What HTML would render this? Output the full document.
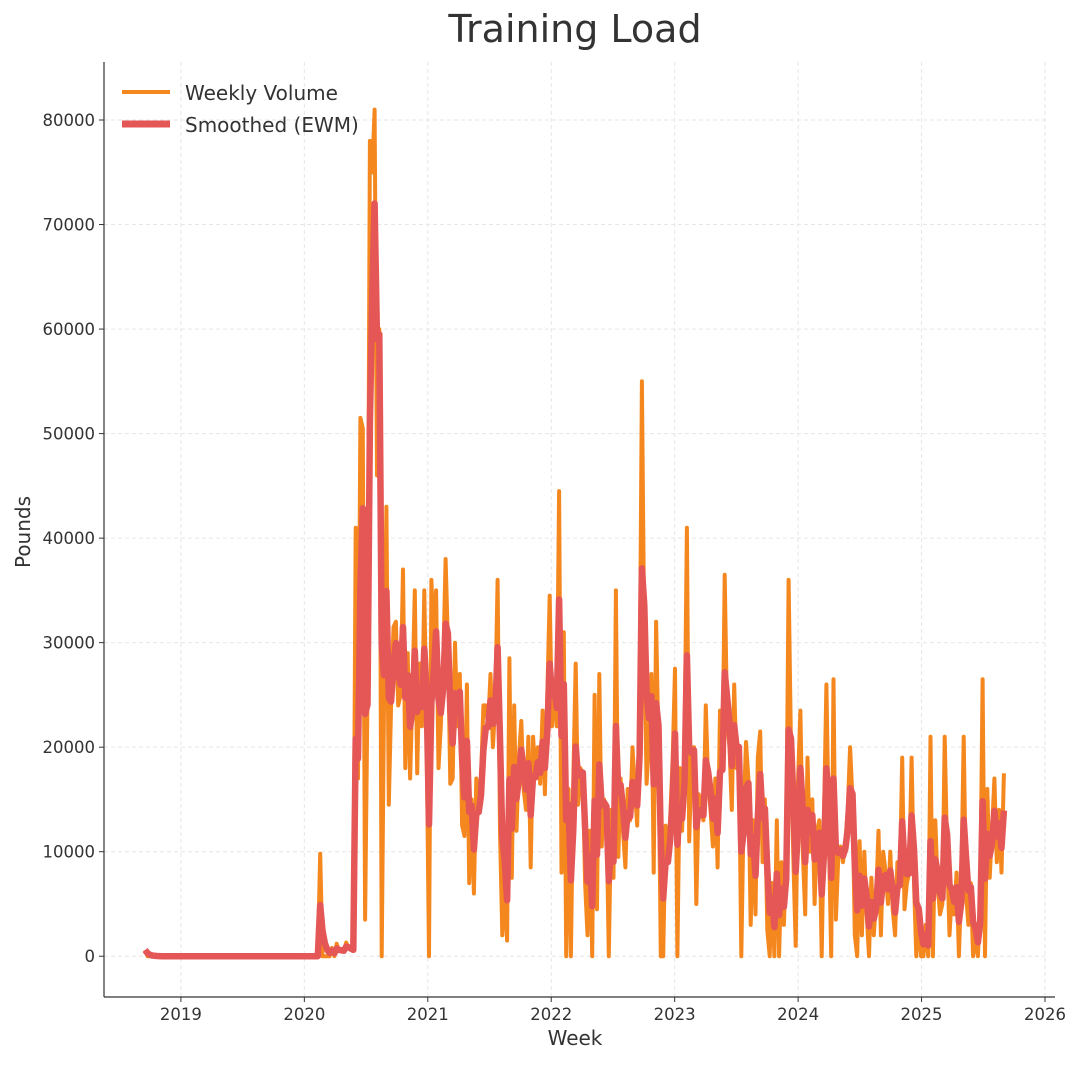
<!DOCTYPE html>
<html><head><meta charset="utf-8"><style>
body{margin:0;background:#fff;}
svg text{font-family:"DejaVu Sans","Liberation Sans",sans-serif;fill:#333;}
</style></head><body>
<svg id="chart" width="1080" height="1061" viewBox="0 0 1080 1061" xmlns="http://www.w3.org/2000/svg">
<text x="575" y="42" font-size="38" text-anchor="middle">Training Load</text>
<g id="grid"></g>
<g id="series"></g>
<g id="axes"></g>
<text x="575" y="1045" font-size="20" text-anchor="middle">Week</text>
<text transform="translate(30,532) rotate(-90)" font-size="20" text-anchor="middle">Pounds</text>
<g>
<g><line x1="122" y1="92" x2="170" y2="92" stroke="#f5871f" stroke-width="4"/><text x="185" y="100" font-size="20">Weekly Volume</text></g>
<g><line x1="122" y1="124" x2="170" y2="124" stroke="#e45756" stroke-width="7"/><text x="185" y="132" font-size="20">Smoothed (EWM)</text></g>
</g>
</svg>
<script>
const yTicks = [0,10000,20000,30000,40000,50000,60000,70000,80000];
const xTicks = [2019,2020,2021,2022,2023,2024,2025,2026];
const startYear = 2018.71;
const weekStep = 7/365.25;
const emwAlpha = 0.5;
const lead = [0.6].concat(new Array(73).fill(0));
const volumeK = lead.concat([9.8,0,0,0,0,0.8,0,1.2,0.5,0.5,0.5,1.3,0.8,0.6,0.5,
41,17,51.5,50.5,3.5,25,78,75,81,46,60,0,24,43,14.5,24,31.5,32,24,25,37,18,29,17,25,35,17.5,28,22,35,21,0,36,30,35,18,22,28,38,30,16.5,17,30,22,27,12.5,11.5,26,7,15,6,17,14,17,24,24,22,27,20,24,36,12,2,7,1.5,28.5,7.5,24,12,19,22.5,16,14,21,8.5,21,17,20,16.5,23.5,15.5,25,34.5,22,26,22,44.5,8,31,0,16,0,17,28,14.5,18,17.5,7,2,12,0,25,4.5,27,10.5,15,14,0,14,7.5,35,9.5,17,12,8.5,16,13,20,16,12.5,24,55,30,16.5,20.5,27,8,32,20,0,0,12.5,9,13.5,19,27.5,0,18,12,20,41,11,19,20,5,15.5,14,13,24,16.5,14,10.5,17,8.5,23.5,18,36.5,22.5,20,14,26,18,20,0,13.5,20.5,17,3,13,4,19,21.5,9,15,2.5,0,7,0,13,0,9,3,10,36,20,9.5,1,17,23.5,10,4,19,10,15,5,12,13,0,14,26,12,0,26.5,3.5,9.5,10.5,9,11,14,20,15,2,0,11,2,10,4,0,7.5,2,5.5,
12,2,10,8,5,10,4.5,2,9,7,19,4.5,7,8,19,7,0,4,0,0,3,0,21,0,13,7,4,5,21,10,2,6,4,8,0,7,21,6,3,7,0,2,0,5,26.5,0,16,7.5,12,17,9,14,8,17.5]);

const L=104,B=997,xMin=2018.377,xMax=2026.0,xR=1045,yMin=-3900,yMax=85550,T=62;
const xs=v=>L+(v-xMin)/(xMax-xMin)*(xR-L);
const ys=v=>B-(v-yMin)/(yMax-yMin)*(B-T);
const NS="http://www.w3.org/2000/svg";
function mk(tag,attrs,parent){const e=document.createElementNS(NS,tag);for(const k in attrs)e.setAttribute(k,attrs[k]);parent.appendChild(e);return e;}
const grid=document.getElementById('grid'),axes=document.getElementById('axes'),series=document.getElementById('series');
yTicks.forEach(t=>{
  const g=mk('line',{x1:L,x2:xR,y1:ys(t),y2:ys(t),stroke:'#e6e6e6','stroke-dasharray':'4,3','stroke-width':1},grid);
  
  
  mk('line',{x1:L-5,x2:L,y1:ys(t),y2:ys(t),stroke:'#333','stroke-width':1},axes);
  const tx=mk('text',{x:L-9,y:ys(t)+6,'font-size':16.5,'text-anchor':'end'},axes);
  tx.textContent=t;
  
  
});
xTicks.forEach(t=>{
  const g=mk('line',{x1:xs(t),x2:xs(t),y1:T,y2:B,stroke:'#e6e6e6','stroke-dasharray':'4,3','stroke-width':1},grid);
  
  
  mk('line',{x1:xs(t),x2:xs(t),y1:B,y2:B+5,stroke:'#333','stroke-width':1},axes);
  const tx=mk('text',{x:xs(t),y:B+23,'font-size':16.5,'text-anchor':'middle'},axes);
  tx.textContent=t;
  
  
});
const sp1=mk('line',{x1:L,x2:L,y1:T,y2:B,stroke:'#333','stroke-width':1.2},axes);


const sp2=mk('line',{x1:L,x2:xR+10,y1:B,y2:B,stroke:'#333','stroke-width':1.2},axes);



const vol=volumeK.map(v=>v*1000);
const ewm=[];let prev=vol[0];
vol.forEach((v,i)=>{prev=i===0?v:emwAlpha*v+(1-emwAlpha)*prev;ewm.push(prev);});
const pts=a=>a.map((v,i)=>xs(startYear+i*weekStep).toFixed(1)+','+ys(v).toFixed(1)).join(' ');
const p1=mk('polyline',{points:pts(vol),fill:'none',stroke:'#f5871f','stroke-width':4,'stroke-linejoin':'round'},series);


const p2=mk('polyline',{points:pts(ewm),fill:'none',stroke:'#e45756','stroke-width':6.5,'stroke-linejoin':'round'},series);


</script>
</body></html>
